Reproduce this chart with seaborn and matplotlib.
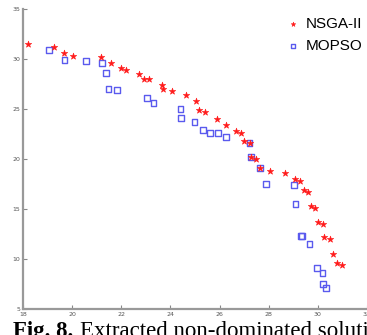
import pandas as pd
import matplotlib.pyplot as plt
import seaborn as sns

# NSGA-II front
nsga_x = [18.22, 19.27, 19.67, 20.03, 21.17, 21.57, 21.99, 22.19, 22.72, 22.91,
          23.13, 23.67, 23.71, 24.05, 24.65, 25.06, 25.18, 25.39, 25.88, 26.27,
          26.67, 26.86, 27.01, 27.22, 27.29, 27.48, 27.63, 28.04, 28.67, 29.07,
          29.29, 29.42, 29.60, 29.71, 29.89, 29.99, 30.19, 30.26, 30.48, 30.61,
          30.78, 30.98]
nsga_y = [31.47, 31.23, 30.63, 30.33, 30.23, 29.63, 29.07, 28.87, 28.50, 27.97,
          27.97, 27.37, 27.03, 26.83, 26.40, 25.80, 24.90, 24.73, 24.03, 23.40,
          22.83, 22.63, 21.80, 21.57, 20.20, 19.97, 19.07, 18.77, 18.57, 17.97,
          17.80, 16.87, 16.67, 15.30, 15.13, 13.73, 13.50, 12.17, 11.97, 10.50,
          9.60, 9.37]

# MOPSO front
mopso_x = [19.05, 19.69, 20.56, 21.22, 21.39, 21.48, 21.81, 23.05, 23.31, 24.41,
           24.42, 24.98, 25.32, 25.60, 25.95, 26.26, 27.22, 27.29, 27.63, 27.90,
           29.03, 29.09, 29.33, 29.37, 29.66, 29.95, 30.19, 30.20, 30.34]
mopso_y = [30.93, 29.93, 29.83, 29.63, 28.63, 27.03, 26.93, 26.10, 25.63, 25.00,
           24.10, 23.70, 22.93, 22.63, 22.63, 22.23, 21.57, 20.20, 19.07, 17.53,
           17.40, 15.47, 12.33, 12.27, 11.47, 9.07, 8.60, 7.53, 7.07]

xticks = [18, 20, 22, 24, 26, 28, 30, 32]
yticks = [5, 10, 15, 20, 25, 30, 35]

df = pd.DataFrame({
    "f1": nsga_x + mopso_x,
    "f2": nsga_y + mopso_y,
    "alg": ["NSGA-II"] * len(nsga_x) + ["MOPSO"] * len(mopso_x),
})

fig = plt.figure(figsize=(3.67, 3.35), dpi=100)
ax = fig.add_axes([23 / 367, 26 / 335, 344 / 367, 300 / 335])

# squares first so the stars sit on top
sns.scatterplot(data=df[df.alg == "MOPSO"], x="f1", y="f2", marker="s", s=18,
                facecolor="none", edgecolor="#5a5aee", linewidth=1.0, ax=ax,
                label="MOPSO", zorder=2)
sns.scatterplot(data=df[df.alg == "NSGA-II"], x="f1", y="f2", marker="*", s=24,
                color="#ff1a1a", edgecolor="#ff1a1a", linewidth=0.4, ax=ax,
                label="NSGA-II", zorder=3)

ax.set_xlim(18, 32)
ax.set_ylim(5, 35)
ax.set_xticks(xticks)
ax.set_yticks(yticks)
ax.set_xlabel("")
ax.set_ylabel("")
ax.tick_params(direction="in", length=3, width=0.8, color="#888888",
               labelsize=4.5, labelcolor="#555555", pad=2)
for s in ["top", "right"]:
    ax.spines[s].set_visible(False)
for s in ["left", "bottom"]:
    ax.spines[s].set_color("#999999")
    ax.spines[s].set_linewidth(1.6)

h, l = ax.get_legend_handles_labels()
ax.legend(h[::-1], l[::-1], loc="upper left",
          bbox_to_anchor=(262 / 344, 1 - 8 / 300),
          frameon=False, handletextpad=0.25, handlelength=1.1, markerscale=0.7,
          borderpad=0, borderaxespad=0, labelspacing=0.5,
          prop={"family": "Liberation Sans", "size": 11})

fig.text(13 / 367, 1 - 321 / 335, "Fig. 8.", fontweight="bold", fontsize=16.5,
         family="Liberation Serif", va="top", ha="left")
fig.text(80 / 367, 1 - 321 / 335, "Extracted non-dominated solutions", fontsize=16.5,
         family="Liberation Serif", va="top", ha="left")

fig.savefig("out.png", dpi=100)
